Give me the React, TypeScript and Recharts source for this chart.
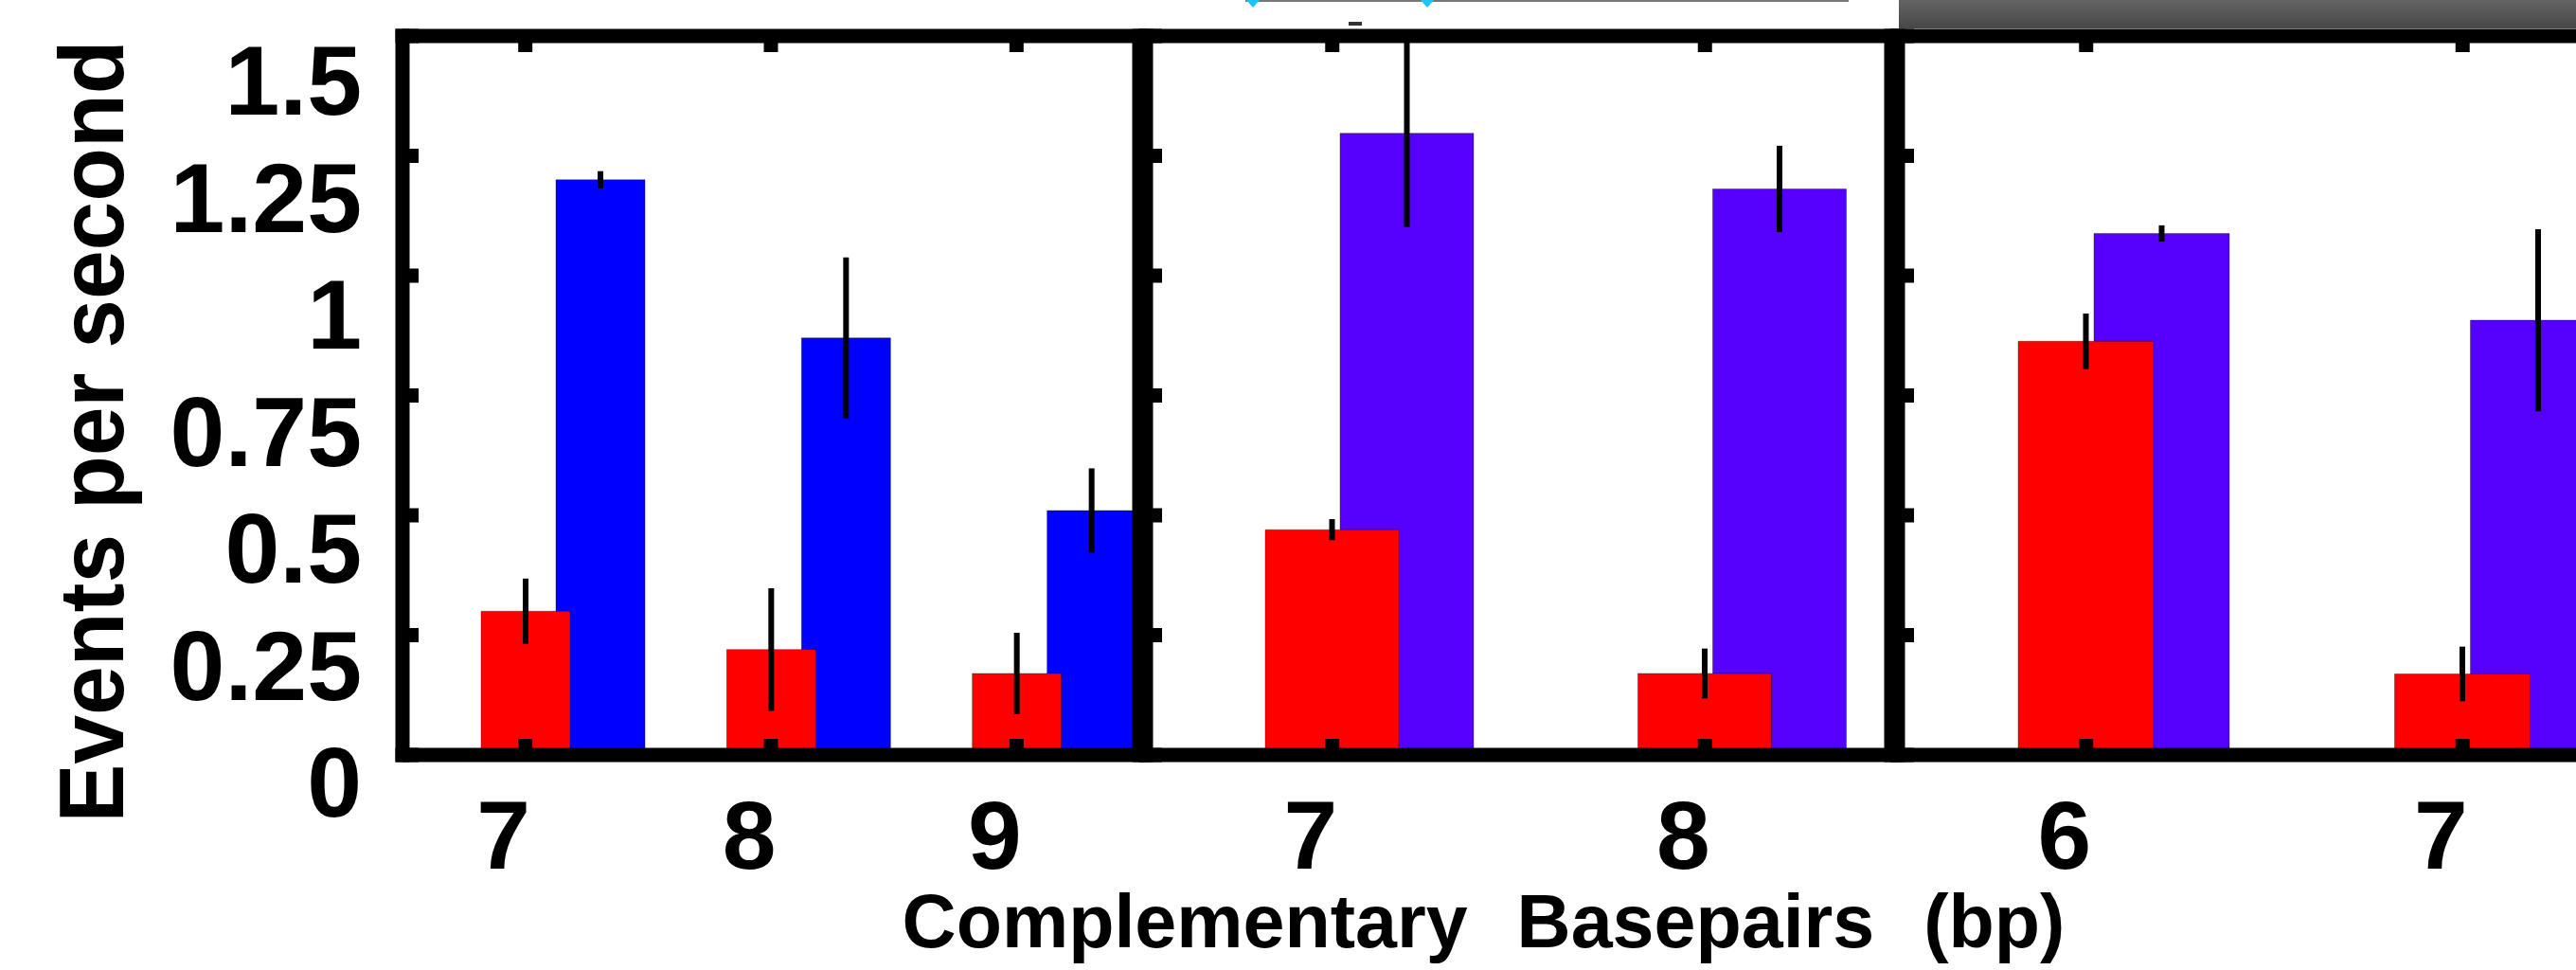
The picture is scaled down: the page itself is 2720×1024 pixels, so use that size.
import React from 'react';
import { BarChart, Bar, XAxis, YAxis, ErrorBar } from 'recharts';

// values, events per second
const p1Cats = ['7', '8', '9'];
const p1Red = [0.3, 0.22, 0.17];
const p1RedErr = [0.068, 0.128, 0.085];
const p1Blue = [1.2, 0.87, 0.51];
const p1BlueErr = [0.018, 0.168, 0.088];

const p2Cats = ['7', '8'];
const p2Red = [0.47, 0.17];
const p2RedErr = [0.022, 0.052];
const p2Blue = [1.297, 1.181];
const p2BlueErr = [0.195, 0.09];

const p3Cats = ['6', '7'];
const p3Red = [0.863, 0.169];
const p3RedErr = [0.058, 0.057];
const p3Blue = [1.088, 0.907];
const p3BlueErr = [0.017, 0.19];

const yTicks = [0, 0.25, 0.5, 0.75, 1, 1.25, 1.5];

const FONT = '"Liberation Sans", Arial, Helvetica, sans-serif';
const LINE = 15;

const buildRows = (cats: string[], red: number[], redErr: number[], blue: number[], blueErr: number[]) =>
  cats.map((bp, i) => ({ bp, red: red[i], redErr: redErr[i], blue: blue[i], blueErr: blueErr[i] }));

const axisLine = { stroke: '#000', strokeWidth: LINE, strokeLinecap: 'square' as const };
const tickLine = { stroke: '#000', strokeWidth: LINE };

// keeps the inward tick marks but draws no label
const NoLabel = () => null;

const XTick = (props: any) => {
  const { x, y, payload } = props;
  return (
    <text x={x - 23} y={y} textAnchor="middle" fontSize={102} fontWeight={700} fontFamily={FONT} fill="#000">
      {payload.value}
    </text>
  );
};

const YTick = (props: any) => {
  const { x, y, payload } = props;
  // labels in the source sit a little below their ticks
  const shift = 46 - 0.024 * (y - 38);
  return (
    <text x={x} y={y + shift} dy="0.36em" textAnchor="end" fontSize={104} fontWeight={700} fontFamily={FONT} fill="#000">
      {payload.value}
    </text>
  );
};

const renderYTitle = (props: any) => {
  const vb = props.viewBox || { x: 25, y: 38, width: 400, height: 759 };
  const cx = vb.x + 105;
  const cy = vb.y + vb.height / 2 + 38;
  return (
    <g transform={`translate(${cx}, ${cy}) rotate(-90)`}>
      <text
        x={0}
        y={0}
        textAnchor="middle"
        fontSize={96}
        fontWeight={700}
        fontFamily={FONT}
        fill="#000"
        textLength={826}
        lengthAdjust="spacingAndGlyphs"
      >
        Events per second
      </text>
    </g>
  );
};

const renderXTitle = (props: any) => {
  const vb = props.viewBox || { x: 310, y: 797, width: 787, height: 200 };
  return (
    <text
      x={vb.x + vb.width / 2 - 37}
      y={vb.y + 203}
      textAnchor="middle"
      fontSize={79}
      fontWeight={700}
      fontFamily={FONT}
      fill="#000"
      style={{ wordSpacing: 30 }}
    >
      Complementary Basepairs (bp)
    </text>
  );
};

interface PanelProps {
  rows: any[];
  svgLeft: number;
  svgRight: number;
  plotLeft: number;
  plotRight: number;
  barSize: number;
  blueShift: number;
  blueColor: string;
  first?: boolean;
  xTitle?: boolean;
}

function Panel({ rows, svgLeft, svgRight, plotLeft, plotRight, barSize, blueShift, blueColor, first, xTitle }: PanelProps) {
  const leftAxisWidth = first ? 400 : 10;
  return (
    <div style={{ position: 'absolute', left: svgLeft, top: 0 }}>
      <BarChart
        width={svgRight - svgLeft}
        height={1024}
        data={rows}
        margin={{
          top: 30,
          right: svgRight - plotRight - 10,
          bottom: 27,
          left: plotLeft - svgLeft - leftAxisWidth,
        }}
      >
        <Bar
          xAxisId="blue"
          yAxisId="left"
          dataKey="blue"
          fill={blueColor}
          stroke="#000"
          strokeOpacity={0.35}
          strokeWidth={1}
          barSize={barSize}
          isAnimationActive={false}
        >
          <ErrorBar dataKey="blueErr" direction="y" width={0} stroke="#000" strokeWidth={6} isAnimationActive={false} />
        </Bar>
        <Bar
          xAxisId="bottom"
          yAxisId="left"
          dataKey="red"
          fill="#ff0000"
          stroke="#000"
          strokeOpacity={0.35}
          strokeWidth={1}
          barSize={barSize}
          isAnimationActive={false}
        >
          <ErrorBar dataKey="redErr" direction="y" width={0} stroke="#000" strokeWidth={6} isAnimationActive={false} />
        </Bar>
        <XAxis
          xAxisId="bottom"
          dataKey="bp"
          orientation="bottom"
          height={200}
          axisLine={axisLine}
          tickLine={tickLine}
          tickSize={-17}
          tickMargin={137}
          interval={0}
          tick={<XTick />}
          label={xTitle ? renderXTitle : undefined}
        />
        <XAxis
          xAxisId="top"
          dataKey="bp"
          orientation="top"
          height={8}
          axisLine={axisLine}
          tickLine={tickLine}
          tickSize={-17}
          interval={0}
          tick={<NoLabel />}
        />
        <YAxis
          yAxisId="left"
          orientation="left"
          type="number"
          domain={[0, 1.5]}
          ticks={yTicks}
          interval={0}
          width={leftAxisWidth}
          axisLine={axisLine}
          tickLine={tickLine}
          tickSize={-17}
          tickMargin={60}
          tick={first ? <YTick /> : <NoLabel />}
          label={first ? renderYTitle : undefined}
        />
        <YAxis
          yAxisId="right"
          orientation="right"
          type="number"
          domain={[0, 1.5]}
          ticks={yTicks}
          interval={0}
          width={10}
          axisLine={axisLine}
          tickLine={tickLine}
          tickSize={-17}
          tick={<NoLabel />}
        />
        {/* blue sits on its own hidden axis, shifted right so it overlaps the red bar */}
        <XAxis xAxisId="blue" dataKey="bp" hide height={0} padding={{ left: blueShift, right: -blueShift }} />
      </BarChart>
    </div>
  );
}

export default function App() {
  const p1 = buildRows(p1Cats, p1Red, p1RedErr, p1Blue, p1BlueErr);
  const p2 = buildRows(p2Cats, p2Red, p2RedErr, p2Blue, p2BlueErr);
  const p3 = buildRows(p3Cats, p3Red, p3RedErr, p3Blue, p3BlueErr);

  return (
    <div style={{ position: 'fixed', left: 0, top: 0, width: 2720, height: 1024, overflow: 'hidden', background: '#fff' }}>
      {/* bits of the slide showing above the plots */}
      <div
        style={{
          position: 'absolute',
          left: 2005,
          top: 0,
          width: 715,
          height: 30,
          background: 'linear-gradient(#646464, #474747)',
        }}
      />
      <svg style={{ position: 'absolute', left: 1300, top: 0 }} width={680} height={30}>
        <line x1={15} y1={1} x2={652} y2={1} stroke="#777" strokeWidth={2} />
        <polygon points="16,0 30,0 23,8" fill="#1cc4ff" />
        <polygon points="200,0 214,0 207,8" fill="#1cc4ff" />
        <rect x={124} y={23} width={14} height={4} fill="#333" />
      </svg>

      <Panel rows={p1} svgLeft={0} svgRight={1215} plotLeft={425} plotRight={1203} barSize={94} blueShift={79} blueColor="#0000ff" first />
      <Panel rows={p2} svgLeft={900} svgRight={2220} plotLeft={1210} plotRight={1997} barSize={141} blueShift={79} blueColor="#5500ff" xTitle />
      <Panel rows={p3} svgLeft={1989} svgRight={2811} plotLeft={2004} plotRight={2799} barSize={143} blueShift={80} blueColor="#5500ff" />
    </div>
  );
}
